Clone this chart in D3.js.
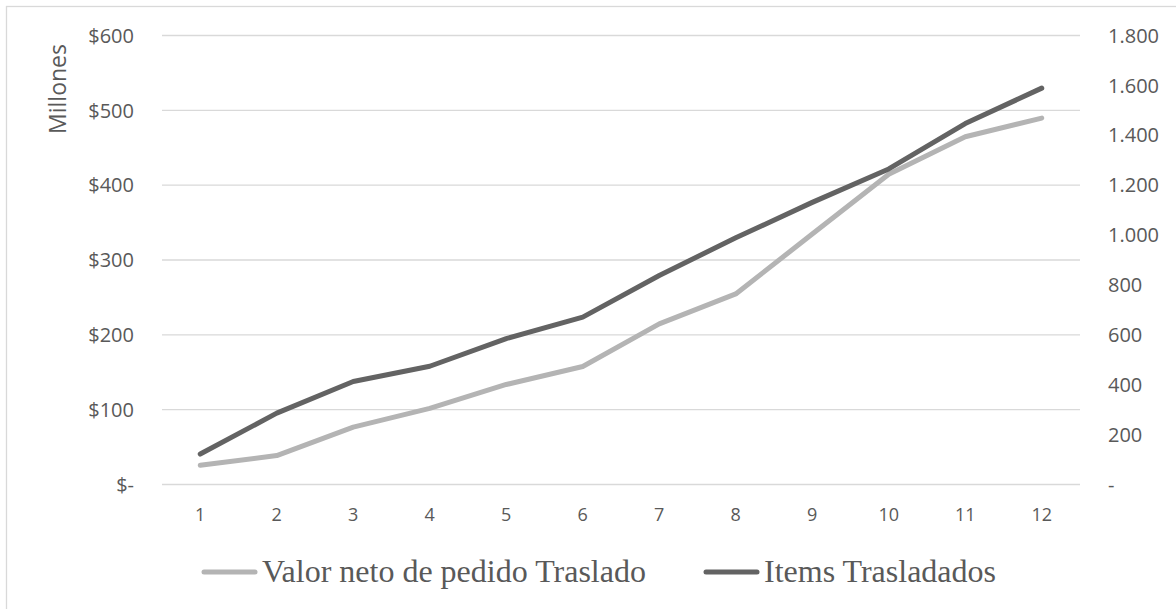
<!DOCTYPE html>
<html>
<head>
<meta charset="utf-8">
<script src="https://cdn.jsdelivr.net/npm/d3@7"></script>
<style>
  body { margin: 0; background: #fff; }
  svg { display: block; }
</style>
</head>
<body>
<svg id="chart" width="1176" height="609"></svg>
<script>
const categories = ["1","2","3","4","5","6","7","8","9","10","11","12"];
const valorNeto = [25, 38, 76, 101, 133, 157, 214, 254, 334, 414, 464, 489];      // $ Millones (left axis)
const itemsTrasladados = [120, 284, 411, 472, 583, 669, 836, 987, 1129, 1263, 1445, 1587]; // right axis
const leftTicks = [0, 100, 200, 300, 400, 500, 600];
const rightTicks = [0, 200, 400, 600, 800, 1000, 1200, 1400, 1600, 1800];
const seriesNames = ["Valor neto de pedido Traslado", "Items Trasladados"];
const seriesColors = ["#b4b4b4", "#636363"];

const svg = d3.select("#chart");
const plot = { left: 162, right: 1080, top: 35, bottom: 484 };

// outer border (top and left visible)
svg.append("rect")
  .attr("x", 6.5).attr("y", 6.5)
  .attr("width", 1200).attr("height", 700)
  .attr("fill", "none").attr("stroke", "#d9d9d9").attr("stroke-width", 1.3);

const x = d3.scaleBand().domain(categories).range([plot.left, plot.right]);
const yL = d3.scaleLinear().domain([0, 600]).range([plot.bottom, plot.top]);
const yR = d3.scaleLinear().domain([0, 1800]).range([plot.bottom, plot.top]);

const fmtThousands = d3.formatLocale({ decimal: ",", thousands: ".", grouping: [3], currency: ["$", ""] }).format(",");

// gridlines
svg.append("g").selectAll("line").data(leftTicks).join("line")
  .attr("x1", plot.left).attr("x2", plot.right)
  .attr("y1", d => yL(d) + 0.5).attr("y2", d => yL(d) + 0.5)
  .attr("stroke", "#d9d9d9").attr("stroke-width", 1.3);

const tickFont = "'Open Sans', sans-serif";
const tickColor = "#595959";

// left axis
const leftAxis = d3.axisLeft(yL).tickValues(leftTicks).tickSize(0).tickPadding(0)
  .tickFormat(d => d === 0 ? "$-" : "$" + d);
const gL = svg.append("g").attr("transform", `translate(${plot.left - 28},0)`).call(leftAxis);
gL.select(".domain").remove();
gL.selectAll("text").attr("font-family", tickFont).attr("font-size", 20).attr("fill", tickColor).attr("dy", "0.36em");

// right axis
const rightAxis = d3.axisRight(yR).tickValues(rightTicks).tickSize(0).tickPadding(0)
  .tickFormat(d => d === 0 ? "-" : fmtThousands(d));
const gR = svg.append("g").attr("transform", `translate(${plot.right + 28},0)`).call(rightAxis);
gR.select(".domain").remove();
gR.selectAll("text").attr("font-family", tickFont).attr("font-size", 20).attr("fill", tickColor).attr("dy", "0.36em");

// bottom axis
const bottomAxis = d3.axisBottom(x).tickSize(0).tickPadding(0);
const gB = svg.append("g").attr("transform", `translate(0,${plot.bottom + 31})`).call(bottomAxis);
gB.select(".domain").remove();
gB.selectAll("text").attr("font-family", tickFont).attr("font-size", 18).attr("fill", tickColor).attr("dy", "0.36em");

// y axis title
svg.append("text")
  .attr("transform", "translate(66,89) rotate(-90)")
  .attr("text-anchor", "middle")
  .attr("font-family", tickFont).attr("font-size", 23).attr("fill", tickColor)
  .text("Millones");

// lines
const cx = d => x(d) + x.bandwidth() / 2;
const lineL = d3.line().x((d, i) => cx(categories[i])).y(d => yL(d));
const lineR = d3.line().x((d, i) => cx(categories[i])).y(d => yR(d));

svg.append("path").datum(valorNeto)
  .attr("d", lineL).attr("fill", "none").attr("stroke", seriesColors[0])
  .attr("stroke-width", 5).attr("stroke-linecap", "round").attr("stroke-linejoin", "round");
svg.append("path").datum(itemsTrasladados)
  .attr("d", lineR).attr("fill", "none").attr("stroke", seriesColors[1])
  .attr("stroke-width", 5).attr("stroke-linecap", "round").attr("stroke-linejoin", "round");

// legend
const legendItems = [
  { name: seriesNames[0], color: seriesColors[0], x: 204 },
  { name: seriesNames[1], color: seriesColors[1], x: 706 }
];
const lg = svg.append("g");
legendItems.forEach(it => {
  lg.append("line").attr("x1", it.x).attr("x2", it.x + 51)
    .attr("y1", 572).attr("y2", 572)
    .attr("stroke", it.color).attr("stroke-width", 5).attr("stroke-linecap", "round");
  lg.append("text").attr("x", it.x + 58).attr("y", 582)
    .attr("font-family", "'Liberation Serif', 'Times New Roman', serif")
    .attr("font-size", 32).attr("fill", tickColor)
    .text(it.name);
});
</script>
</body>
</html>
